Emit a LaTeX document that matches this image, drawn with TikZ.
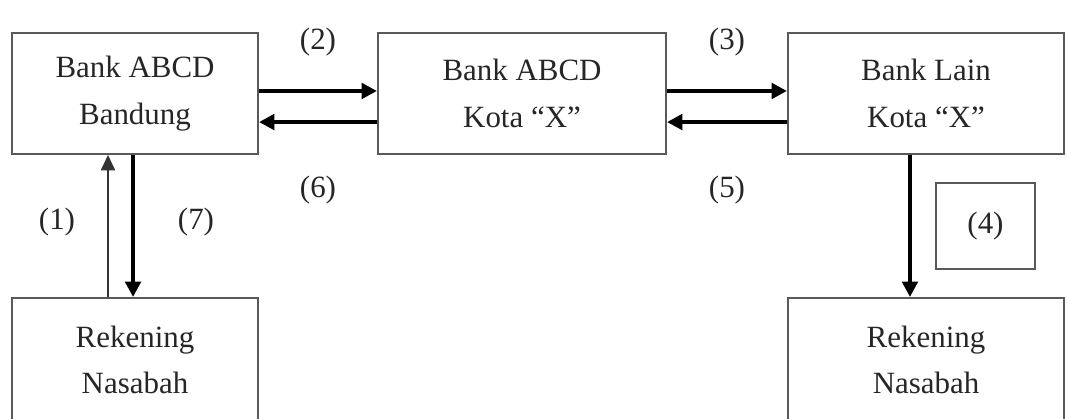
\documentclass[tikz,border=0pt]{standalone}
\usepackage{fontspec}
\setmainfont{Liberation Serif}
\usetikzlibrary{positioning}
\usetikzlibrary{arrows.meta}

\begin{document}
\begin{tikzpicture}[
			x=0.025cm, y=-0.025cm,
			box/.style={draw=black!65, line width=1.4pt, align=center, text=black!85, font=\fontsize{22}{33}\selectfont, inner sep=0pt},
			bank/.style={box, minimum width=6.15cm, minimum height=3.02cm},
			num/.style={text=black!85, font=\fontsize{22}{26}\selectfont},
			flow/.style={draw=black, line width=2.8pt, -{Triangle[length=11pt, width=11pt]}},
			thinflow/.style={draw=black!80, line width=1.3pt, -{Triangle[length=11pt, width=10pt]}}
			]
			
			\path[use as bounding box, fill=white] (0,0) rectangle (1067,419);
			\clip (0,0) rectangle (1067,419);
			
			% Boxes in the top row
			\node[bank] (bandung) at (135, 93.5) {Bank ABCD \\ Bandung};
			\node[bank, minimum width=7.2cm] (kotax) at (522, 93.5) {Bank ABCD \\ Kota “X”};
			\node[bank, minimum width=6.9cm] (lain) at (926, 93.5) {Bank Lain \\ Kota “X”};
			
			% Boxes in the bottom row
			\node[bank, minimum height=3.1cm] (rekkiri) at (135, 360) {Rekening \\ Nasabah};
			\node[bank, minimum width=6.9cm, minimum height=3.1cm] (rekkanan) at (926, 360) {Rekening \\ Nasabah};
			
			% Small box
			\node[box, minimum width=2.48cm, minimum height=2.15cm] (empat) at (985.5, 226) {(4)};
			
			% Step numbers
			\node[num] (n1) at (57, 222) {(1)};
			\node[num] (n2) at (318, 42) {(2)};
			\node[num] (n3) at (727, 42) {(3)};
			\node[num] (n5) at (727, 190) {(5)};
			\node[num] (n6) at (318, 190) {(6)};
			\node[num] (n7) at (196, 222) {(7)};
			
			% Arrows between banks
			\draw[flow] ([yshift=1.8pt]bandung.east) -- ([yshift=1.8pt]kotax.west);
			\draw[flow] ([yshift=-20.3pt]kotax.west) -- ([yshift=-20.3pt]bandung.east);
			\draw[flow] ([yshift=1.8pt]kotax.east) -- ([yshift=1.8pt]lain.west);
			\draw[flow] ([yshift=-20.3pt]lain.west) -- ([yshift=-20.3pt]kotax.east);
			
			% Arrows to the accounts
			\draw[thinflow] ([xshift=-19.2pt]rekkiri.north) -- ([xshift=-19.2pt]bandung.south);
			\draw[flow] ([xshift=-1.4pt]bandung.south) -- ([xshift=-1.4pt]rekkiri.north);
			\draw[flow] ([xshift=-11.4pt]lain.south) -- ([xshift=-11.4pt]rekkanan.north);
			
		\end{tikzpicture}
\end{document}
